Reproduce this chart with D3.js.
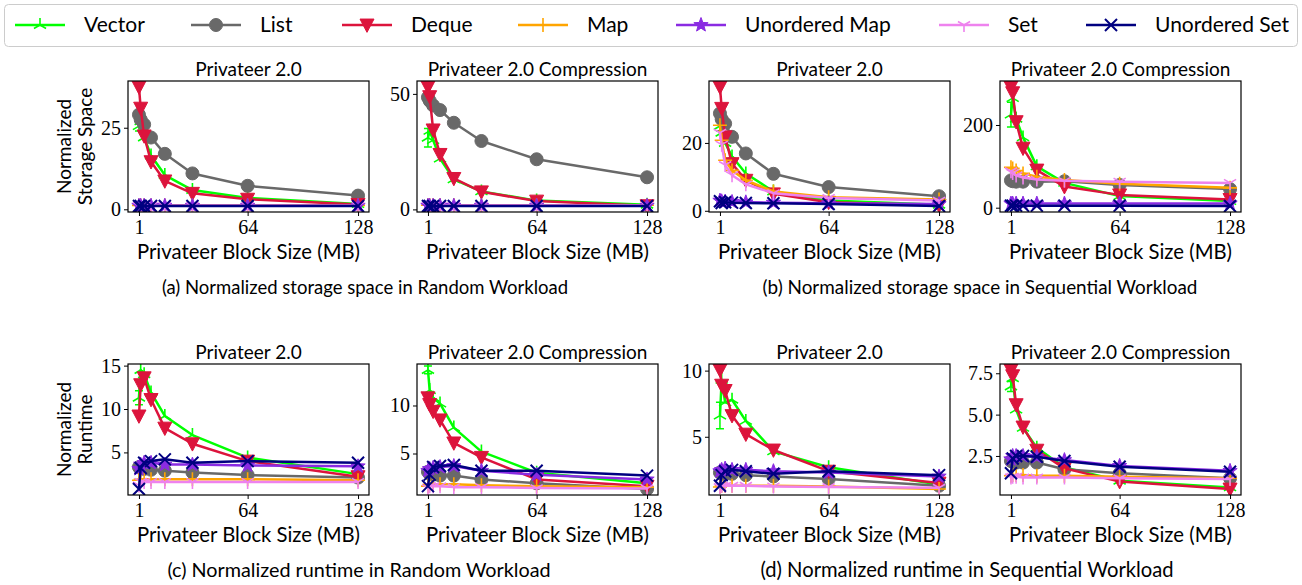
<!DOCTYPE html>
<html>
<head>
<meta charset="utf-8">
<script src="https://cdn.jsdelivr.net/npm/d3@7"></script>
<style>
  body { margin: 0; background: #fff; }
  .sans { font-family: Lato, "DejaVu Sans", sans-serif; fill: #000; }
  .serif { font-family: "Liberation Serif", "DejaVu Serif", serif; fill: #000; }
</style>
</head>
<body>
<div id="chart"></div>
<script>
// ---- data ----
var blockSizes = [1, 2, 4, 8, 16, 32, 64, 128];
var seriesNames = ["Vector", "List", "Deque", "Map", "Unordered Map", "Set", "Unordered Set"];

// each panel: one row per series, in seriesNames order
var storageRandomBase = [
  [25.5, 27, 22, 16.5, 10.5, 5.9, 3.5, 1.6],
  [29, 27.5, 26, 22, 17, 11, 7.2, 4.2],
  [37.5, 31, 22.5, 14.6, 8.7, 4.9, 3.1, 1.5],
  [1.2, 1.2, 1.2, 1.2, 1.2, 1.2, 1.2, 1.2],
  [1.1, 1.1, 1.1, 1.1, 1.1, 1.1, 1.1, 1.1],
  [1.1, 1.1, 1.1, 1.1, 1.1, 1.1, 1.1, 1.1],
  [1.0, 1.0, 1.0, 1.0, 1.0, 1.0, 1.0, 1.0]
];
var storageRandomComp = [
  [31, 34, 30, 22, 13, 7.8, 3.8, 2.0],
  [48.5, 47, 45, 43, 37.5, 29.6, 21.7, 13.9],
  [53.0, 48.8, 34.4, 23.8, 13.4, 7.6, 3.6, 1.6],
  [1.8, 1.8, 1.8, 1.8, 1.8, 1.8, 1.8, 1.8],
  [1.6, 1.6, 1.6, 1.6, 1.6, 1.6, 1.6, 1.6],
  [1.7, 1.7, 1.7, 1.7, 1.7, 1.7, 1.7, 1.7],
  [1.45, 1.45, 1.45, 1.45, 1.45, 1.45, 1.45, 1.45]
];
var storageSeqBase = [
  [25, 23, 20, 16, 11, 5.7, 3.0, 1.8],
  [28.7, 27, 25.7, 21.8, 16.9, 10.9, 7.0, 4.3],
  [36.5, 30.2, 21.8, 13.9, 9.0, 5.0, 2.5, 1.6],
  [25.2, 20.8, 14.9, 11.9, 9, 5.7, 4.0, 3.3],
  [3.0, 2.8, 2.7, 2.6, 2.5, 2.4, 2.2, 2.0],
  [23, 19.5, 13.5, 10.5, 7.8, 5.2, 3.8, 3.0],
  [2.8, 2.3, 2.5, 2.4, 2.3, 2.2, 2.0, 1.4]
];
var storageSeqComp = [
  [225, 265, 215, 170, 100, 60, 28, 16],
  [66, 64, 63, 63, 63, 64, 55, 45],
  [292, 278, 208, 144, 91, 51, 31, 20],
  [98, 95, 90, 83, 75, 67, 58, 48],
  [10, 10, 10, 10, 10, 10, 10, 10],
  [88, 84, 78, 73, 68, 65, 63, 60],
  [5, 5, 5, 5, 5, 5, 5, 4]
];
var runtimeRandomBase = [
  [11.3, 14.5, 14.0, 11.9, 9.2, 7.0, 4.4, 2.5],
  [3.3, 3.2, 3.1, 3.0, 2.9, 2.7, 2.4, 2.1],
  [9.2, 12.8, 13.6, 11.1, 7.8, 6.0, 4.0, 2.2],
  [1.8, 1.9, 1.9, 1.9, 1.9, 1.9, 1.9, 1.8],
  [3.1, 3.6, 3.8, 3.8, 3.6, 3.6, 3.5, 3.4],
  [1.2, 1.6, 1.6, 1.6, 1.6, 1.6, 1.6, 1.6],
  [0.78, 3.2, 3.8, 4.0, 4.2, 3.8, 4.0, 3.8]
];
var runtimeRandomComp = [
  [13.7, 11.6, 10.8, 10.2, 7.7, 5.2, 3.0, 1.9],
  [3.1, 2.9, 2.8, 2.7, 2.7, 2.3, 1.9, 1.3],
  [10.8, 10.1, 9.4, 8.5, 6.1, 4.6, 2.3, 1.6],
  [1.6, 1.8, 1.8, 1.8, 1.8, 1.7, 1.6, 1.5],
  [3.2, 3.4, 3.5, 3.6, 3.7, 3.2, 2.8, 2.3],
  [1.4, 1.6, 1.6, 1.6, 1.5, 1.5, 1.4, 1.35],
  [1.6, 2.8, 3.6, 3.7, 3.8, 3.2, 3.2, 2.7]
];
var runtimeSeqBase = [
  [6.6, 9.3, 7.6, 7.8, 6.2, 3.9, 2.7, 1.4],
  [2.3, 2.2, 2.2, 2.2, 2.1, 2.0, 1.8, 1.3],
  [10.05, 8.9, 8.5, 6.6, 5.2, 4.0, 2.4, 1.5],
  [1.2, 1.3, 1.3, 1.3, 1.3, 1.3, 1.25, 1.05],
  [2.4, 2.5, 2.6, 2.5, 2.5, 2.4, 2.3, 2.0],
  [1.2, 1.3, 1.3, 1.3, 1.3, 1.25, 1.2, 1.15],
  [1.3, 2.1, 2.4, 2.5, 2.4, 2.2, 2.4, 2.1]
];
var runtimeSeqComp = [
  [6.7, 7.2, 5.3, 4.2, 3.0, 1.8, 1.0, 0.6],
  [2.2, 2.15, 2.1, 2.1, 2.1, 1.7, 1.45, 1.15],
  [7.7, 7.35, 5.6, 4.25, 2.85, 1.75, 0.95, 0.5],
  [1.3, 1.35, 1.35, 1.35, 1.3, 1.3, 1.25, 1.15],
  [2.3, 2.5, 2.5, 2.5, 2.45, 2.25, 1.9, 1.6],
  [1.2, 1.25, 1.25, 1.2, 1.2, 1.2, 1.15, 1.1],
  [1.45, 2.35, 2.5, 2.5, 2.45, 2.2, 1.85, 1.55]
];
// error bar of Vector at the first block size, per panel
var vectorErrFirst = [1.5, 4, 1.5, 30, 0.8, 0.4, 1.0, 0.3];

var panelData = [storageRandomBase, storageRandomComp, storageSeqBase, storageSeqComp,
                 runtimeRandomBase, runtimeRandomComp, runtimeSeqBase, runtimeSeqComp];
var panelTitles = ["Privateer 2.0", "Privateer 2.0 Compression"];
var panelYTicks = [[0, 25], [0, 50], [0, 20], [0, 200], [5, 10, 15], [5, 10], [5, 10], [2.5, 5.0, 7.5]];
var xTicks = [1, 64, 128];
var rowYLabels = [["Normalized", "Storage Space"], ["Normalized", "Runtime"]];
var captions = ["(a) Normalized storage space in Random Workload",
                "(b) Normalized storage space in Sequential Workload",
                "(c) Normalized runtime in Random Workload",
                "(d) Normalized runtime in Sequential Workload"];

// ---- styles ----
var seriesColors = ["#00ff00", "#696969", "#dc143c", "#ffa500", "#8a2be2", "#ee82ee", "#000080"];
var seriesMarkers = ["tri_up", "circle", "tri_down", "plus", "star", "tri_down_line", "x"];

var W = 1302, H = 585;
var colLeft = [128, 417, 709, 1000];
var plotW = 241;
var rowTop = [81, 364];
var plotH = 131;
var captionX = [365, 980, 359, 967];
var captionSize = [18.5, 18.9, 19.8, 20.2];

var svg = d3.select("#chart").append("svg")
  .attr("width", W).attr("height", H);

function markerPath(kind, s) {
  var c = 0.866 * s, h = 0.5 * s;
  if (kind === "tri_up") return "M0,0L0," + (-s) + "M0,0L" + (-c) + "," + h + "M0,0L" + c + "," + h;
  if (kind === "tri_down_line") return "M0,0L0," + s + "M0,0L" + (-c) + "," + (-h) + "M0,0L" + c + "," + (-h);
  if (kind === "plus") return "M" + (-s) + ",0H" + s + "M0," + (-s) + "V" + s;
  if (kind === "x") return "M" + (-s) + "," + (-s) + "L" + s + "," + s + "M" + (-s) + "," + s + "L" + s + "," + (-s);
  if (kind === "tri_down") return "M" + (-s) + "," + (-s * 0.85) + "L" + s + "," + (-s * 0.85) + "L0," + (s * 1.05) + "Z";
  if (kind === "circle") return d3.symbol(d3.symbolCircle, Math.PI * s * s)();
  if (kind === "star") {
    var p = [];
    for (var k = 0; k < 10; k++) {
      var r = k % 2 === 0 ? s : s * 0.42;
      var a = -Math.PI / 2 + k * Math.PI / 5;
      p.push([r * Math.cos(a), r * Math.sin(a)]);
    }
    return "M" + p.map(function(q) { return q[0].toFixed(2) + "," + q[1].toFixed(2); }).join("L") + "Z";
  }
}
var markerSize = { tri_up: 7, circle: 6.5, tri_down: 7, plus: 7, star: 7.5, tri_down_line: 7, x: 6 };
var markerFilled = { circle: true, tri_down: true, star: true };

function drawMarker(g, kind, color, x, y) {
  var filled = markerFilled[kind];
  g.append("path")
    .attr("d", markerPath(kind, markerSize[kind]))
    .attr("transform", "translate(" + x + "," + y + ")")
    .attr("fill", filled ? color : "none")
    .attr("stroke", color)
    .attr("stroke-width", filled ? 1 : (kind === "x" ? 2 : 1.6));
}

// ---- legend ----
var legend = svg.append("g").attr("class", "legend");
legend.append("rect")
  .attr("x", 4.5).attr("y", 4.5).attr("width", 1293).attr("height", 42)
  .attr("rx", 4).attr("fill", "#fff").attr("stroke", "#cccccc").attr("stroke-width", 1);
var legendLineX = [15, 191, 342, 518, 676, 939, 1086];
seriesNames.forEach(function(name, i) {
  var x0 = legendLineX[i], cy = 25;
  legend.append("line")
    .attr("x1", x0).attr("x2", x0 + 50).attr("y1", cy).attr("y2", cy)
    .attr("stroke", seriesColors[i]).attr("stroke-width", 2.5);
  drawMarker(legend, seriesMarkers[i], seriesColors[i], x0 + 25, cy);
  legend.append("text").attr("class", "sans")
    .attr("x", x0 + 69).attr("y", cy).attr("dy", "0.35em")
    .attr("font-size", 21).text(name);
});

// ---- panels ----
var clipId = 0;
panelData.forEach(function(rows, p) {
  var row = p < 4 ? 0 : 1, col = p % 4;
  var left = colLeft[col], top = rowTop[row];
  var g = svg.append("g").attr("transform", "translate(" + left + "," + top + ")");

  var xScale = d3.scaleLinear()
    .domain([1 - 0.05 * 127, 128 + 0.05 * 127])
    .range([0, plotW]);

  var allVals = [].concat.apply([], rows);
  var yMin = d3.min(allVals), yMax = d3.max(allVals);
  var pad = 0.05 * (yMax - yMin);
  var yScale = d3.scaleLinear()
    .domain([yMin - pad, yMax + pad])
    .range([plotH, 0]);

  clipId++;
  g.append("clipPath").attr("id", "clip" + clipId)
    .append("rect").attr("width", plotW).attr("height", plotH);
  var plot = g.append("g").attr("clip-path", "url(#clip" + clipId + ")");

  var line = d3.line()
    .x(function(d, i) { return xScale(blockSizes[i]); })
    .y(function(d) { return yScale(d); });

  rows.forEach(function(vals, s) {
    var color = seriesColors[s];
    plot.append("path").datum(vals)
      .attr("d", line)
      .attr("fill", "none")
      .attr("stroke", color)
      .attr("stroke-width", 2.5)
      .attr("stroke-linejoin", "round");
    if (s === 0) {
      // error bar at first block size
      var ex = xScale(blockSizes[0]);
      var e = vectorErrFirst[p];
      var y1 = yScale(vals[0] - e), y2 = yScale(vals[0] + e);
      plot.append("path")
        .attr("d", "M" + ex + "," + y1 + "V" + y2 +
                   "M" + (ex - 4) + "," + y1 + "H" + (ex + 4) +
                   "M" + (ex - 4) + "," + y2 + "H" + (ex + 4))
        .attr("stroke", color).attr("stroke-width", 1.5).attr("fill", "none");
    }
    vals.forEach(function(v, i) {
      drawMarker(plot, seriesMarkers[s], color, xScale(blockSizes[i]), yScale(v));
    });
  });

  // frame
  g.append("rect").attr("width", plotW).attr("height", plotH)
    .attr("fill", "none").attr("stroke", "#000").attr("stroke-width", 1.2);

  // x axis
  var xAxis = d3.axisBottom(xScale).tickValues(xTicks).tickSize(4).tickPadding(3);
  var xg = g.append("g").attr("transform", "translate(0," + plotH + ")").call(xAxis);
  xg.select(".domain").remove();
  xg.selectAll("text").attr("class", "serif").attr("font-size", 20).attr("dy", "0.75em");

  // y axis
  var fmt = p === 7 ? d3.format(".1f") : d3.format("d");
  var yAxis = d3.axisLeft(yScale).tickValues(panelYTicks[p]).tickSize(4).tickPadding(3).tickFormat(fmt);
  var yg = g.append("g").call(yAxis);
  yg.select(".domain").remove();
  yg.selectAll("text").attr("class", "serif").attr("font-size", 20);

  // title
  g.append("text").attr("class", "sans")
    .attr("x", plotW / 2).attr("y", -5)
    .attr("text-anchor", "middle").attr("font-size", 19)
    .text(panelTitles[col % 2]);

  // x label
  g.append("text").attr("class", "sans")
    .attr("x", plotW / 2).attr("y", plotH + 46.5)
    .attr("text-anchor", "middle").attr("font-size", 20.3)
    .text("Privateer Block Size (MB)");

  // y label on first column
  if (col === 0) {
    var lbl = svg.append("text").attr("class", "sans")
      .attr("transform", "translate(0," + (top + plotH / 2) + ") rotate(-90)")
      .attr("text-anchor", "middle").attr("font-size", 19);
    lbl.append("tspan").attr("x", 0).attr("y", 71).text(rowYLabels[row][0]);
    lbl.append("tspan").attr("x", 0).attr("y", 92).text(rowYLabels[row][1]);
  }
});

// captions
captions.forEach(function(c, i) {
  var row = i < 2 ? 0 : 1;
  svg.append("text").attr("class", "sans")
    .attr("x", captionX[i]).attr("y", rowTop[row] + plotH + 82)
    .attr("text-anchor", "middle").attr("font-size", captionSize[i])
    .text(c);
});
</script>
</body>
</html>
